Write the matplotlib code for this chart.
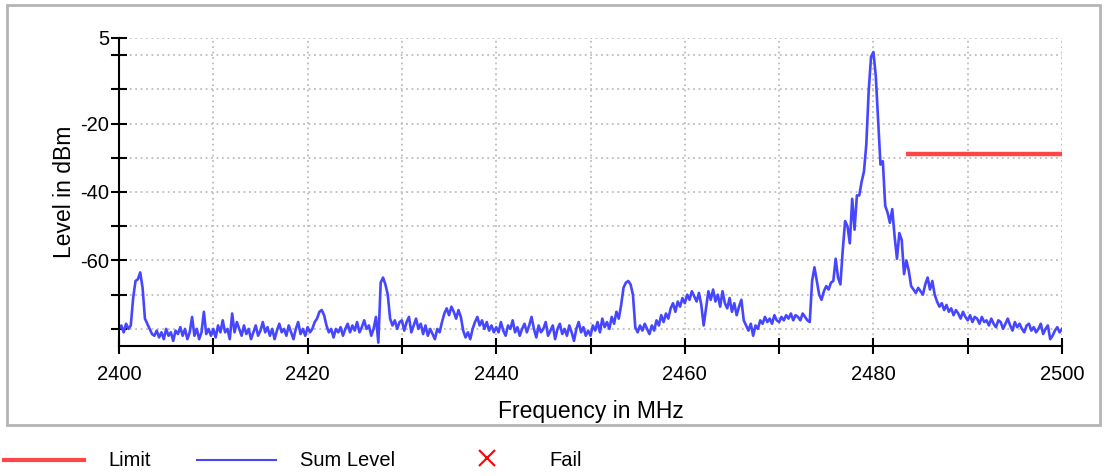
import numpy as np
import matplotlib.pyplot as plt
from matplotlib.lines import Line2D
from matplotlib.patches import Rectangle

plt.rcParams['font.family'] = ['Liberation Sans', 'DejaVu Sans']

# Sweep settings (MHz)
f_start = 2400.0
f_step = 0.25

# Sum level in dBm, one block per 10 MHz
level_2400 = [-80, -79, -81, -78.5, -80, -79, -71, -66, -65.5, -63.5,
              -68, -77, -78.5, -80, -81.5, -82, -80.5, -82.5, -81, -83,
              -80, -82, -81, -83.5, -80.5, -81.5, -79.5, -82, -80, -83,
              -81, -76.5, -82, -80, -83, -81, -75, -81.5, -80, -82]
level_2410 = [-80, -82.5, -79, -81, -77.5, -81, -80, -83, -75.5, -81,
              -78, -80, -82, -79, -81.5, -80, -83, -81, -79, -82,
              -80.5, -78, -81, -79.5, -82, -80, -83, -80.5, -78.5, -81,
              -80, -82, -79, -81, -83, -80, -78, -81.5, -80, -82]
level_2420 = [-79.5, -81, -80, -78, -77, -75, -74.5, -76, -79, -81,
              -80, -82.5, -80, -81, -79.5, -82, -80, -78.5, -81, -79,
              -80.5, -78, -81, -79.5, -77.5, -80, -79, -82, -80, -76.5,
              -84, -66.5, -65, -67, -70, -77, -79, -77.5, -80, -78]
level_2430 = [-77.5, -80.5, -78, -76.5, -81, -79, -77, -80, -78.5, -81.5,
              -79, -82, -80, -81.5, -83, -80, -81, -78, -75.5, -74,
              -76, -73.5, -75, -77, -74.5, -76.5, -80.5, -82.5, -81, -83,
              -80, -78, -76.5, -79, -77.5, -80, -78, -80.5, -79, -81]
level_2440 = [-79.5, -81, -78, -80.5, -82, -79, -80, -77.5, -81, -79.5,
              -82, -80, -78.5, -81, -79, -76.5, -80, -82.5, -79, -81,
              -80, -78, -82, -80.5, -79, -83, -80, -78.5, -81.5, -80,
              -82, -79, -81, -83.5, -80, -78, -81, -79.5, -82, -80.5]
level_2450 = [-82, -79, -80.5, -78, -81, -77, -79.5, -78, -80, -76.5,
              -78.5, -75, -77, -73, -68, -66.5, -66, -67, -70, -79.5,
              -81, -79, -80.5, -78.5, -80, -81.5, -79, -80.5, -77.5, -79,
              -76, -78, -75.5, -77, -74, -72.5, -75, -72, -73.5, -71]
level_2460 = [-72.5, -70, -71.5, -69, -70.5, -72, -69.5, -73, -79, -74,
              -69, -71.5, -68.5, -72, -70, -73.5, -69, -72.5, -74, -71,
              -75, -72.5, -76, -73.5, -71.5, -77.5, -79, -80.5, -78.5, -82,
              -79, -80, -77.5, -78.5, -76.5, -78, -77, -78.5, -76, -77.5]
level_2470 = [-78, -76.5, -77.5, -76, -77, -75.5, -77.5, -76, -76.5, -77.5,
              -75.5, -76.5, -77.5, -78, -66, -62, -66, -70, -71.5, -69,
              -67.5, -68.5, -66.5, -66, -59.5, -65, -67, -57, -48.5, -50,
              -55, -42, -51, -41, -41, -37, -34, -26, -10.5, -0.5]
level_2480 = [0.9, -6, -19, -32, -31, -44, -46, -49, -45, -53,
              -59.5, -52, -54, -64, -60, -63, -67.5, -68.5, -69.5, -68,
              -69, -70, -67, -65, -68.5, -66, -70, -72, -73.5, -72.5,
              -74.5, -73, -75, -74, -76, -74.5, -75.5, -77, -75, -76.5]
level_2490 = [-77.5, -76, -78, -76.5, -77, -78.5, -76.5, -78, -77.5, -79,
              -77, -78.5, -79.5, -77.5, -78, -80, -78.5, -77, -79, -80.5,
              -78, -79.5, -78.5, -80, -81, -79, -78.5, -80.5, -79.5, -81,
              -80, -78.5, -81.5, -80, -79, -83, -82, -80.5, -79.5, -81,
              -80]

# Limit line (dBm) for the restricted band above 2483.5 MHz
limit_freq = [2483.5, 2500]
limit_level = [-29, -29]

level = np.array(level_2400 + level_2410 + level_2420 + level_2430 + level_2440
                 + level_2450 + level_2460 + level_2470 + level_2480 + level_2490)
freq = f_start + f_step * np.arange(len(level))

fig = plt.figure(figsize=(11.04, 4.76), dpi=100)
ax = fig.add_axes([119 / 1104, 1 - 346 / 476, 943 / 1104, 308 / 476])

ax.plot(freq, level, color='#4646ff', lw=1.9)
ax.plot(limit_freq, limit_level, color='#ff4646', lw=3.2, solid_capstyle='butt')

ax.set_xlim(2400, 2500)
ax.set_ylim(-85, 5)

ax.set_xticks(np.arange(2400, 2501, 10))
ax.set_xticklabels([str(v) if v % 20 == 0 else '' for v in range(2400, 2501, 10)])
yt = [5] + list(range(0, -81, -10))
ax.set_yticks(yt)
ax.set_yticklabels([str(v) if v in (5, -20, -40, -60) else '' for v in yt])

ax.grid(True, color='#bdbdbd', linestyle=(0, (1, 2)), lw=1.3)
ax.tick_params(axis='y', direction='inout', length=12, width=1.5, labelsize=14.5, pad=1)
ax.tick_params(axis='x', direction='inout', length=11, width=1.5, labelsize=14.5, pad=8)
for s in ('top', 'right'):
    ax.spines[s].set_visible(False)
for s in ('left', 'bottom'):
    ax.spines[s].set_linewidth(1.5)

ax.set_xlabel('Frequency in MHz', fontsize=16.5, labelpad=12)
ax.set_ylabel('Level in dBm', fontsize=16.5, labelpad=3)

# outer gray frame
fig.patches.append(Rectangle((7 / 1104, 1 - 425 / 476), 1093 / 1104, 420 / 476,
                             transform=fig.transFigure, fill=False,
                             edgecolor='#b4b4b4', lw=2))

# legend row under the frame
ly = 1 - 460 / 476
fig.add_artist(Line2D([4 / 1104, 84 / 1104], [ly, ly], color='#ff4646', lw=3))
fig.text(108 / 1104, ly, 'Limit', fontsize=14.5, va='center')
fig.add_artist(Line2D([197 / 1104, 276 / 1104], [ly, ly], color='#4646ff', lw=1.5))
fig.text(300 / 1104, ly, 'Sum Level', fontsize=14.5, va='center')
fig.add_artist(Line2D([487 / 1104], [ly + 0.004], color='red', marker='x',
                      markersize=12, mew=1.5, linestyle='none'))
fig.text(549 / 1104, ly, 'Fail', fontsize=14.5, va='center')

fig.savefig('out.png', dpi=100)
